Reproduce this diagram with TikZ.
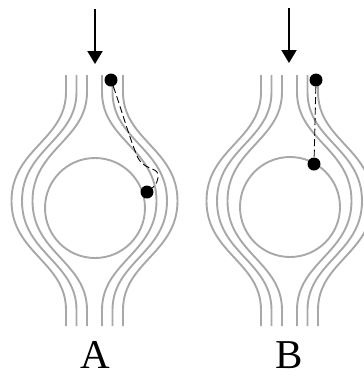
\documentclass[tikz,border=0pt]{standalone}
\usepackage{fontspec}
\setmainfont{Liberation Serif}
\usepackage{tikz}
\usetikzlibrary{arrows.meta,positioning}
\definecolor{flowgray}{RGB}{168,168,168}

\tikzset{
  streamline/.style={draw=flowgray, line width=1.9pt},
  particle/.style={circle, fill=black, inner sep=0pt, minimum size=13pt},
  pathline/.style={draw=black, line width=0.9pt, dash pattern=on 7pt off 3.5pt},
  inflow/.style={draw=black, line width=1.9pt, -{Triangle[length=13pt,width=15pt]}},
  panellabel/.style={anchor=base, font=\fontsize{41}{41}\selectfont, inner sep=0pt, text depth=0pt}
}

\begin{document}
\begin{tikzpicture}[x=1pt,y=-1pt]
\useasboundingbox (0,0) rectangle (364,376);
\clip (0,0) rectangle (364,376);

% streamlines round the obstacle, both panels
\foreach \cx in {94.5,289.5}{
  \foreach \d in {7.5,18,28.5}{
    \foreach \s in {-1,1}{
      \draw[streamline] ({\cx+(\s)*\d},75) -- ({\cx+(\s)*\d},92)
        .. controls ({\cx+(\s)*\d},140) and ({\cx+(\s)*(\d+54.5)},149) .. ({\cx+(\s)*(\d+54.5)},201)
        .. controls ({\cx+(\s)*(\d+54.5)},253) and ({\cx+(\s)*\d},262) .. ({\cx+(\s)*\d},310)
        -- ({\cx+(\s)*\d},326);
    }
  }
}

% obstacles
\draw[streamline] (95,208) circle[radius=50];
\draw[streamline] (290,207) circle[radius=50];

% incoming flow
\coordinate (inA) at (95,9);
\coordinate (tipA) at (95,64);
\coordinate (inB) at (289,8);
\coordinate (tipB) at (289,63);
\draw[inflow] (inA) -- (tipA);
\draw[inflow] (inB) -- (tipB);

% panel A: particle path
\node[particle] (startA) at (111,80) {};
\node[particle] (endA) at (147,192) {};
\draw[pathline] (startA) .. controls (120,105) and (130,140) .. (138,158)
  .. controls (146,172) and (160,166) .. (158,178)
  .. controls (157,185) and (152,188) .. (endA);

% panel B: particle path
\node[particle] (startB) at (316,80) {};
\node[particle] (endB) at (314,164) {};
\draw[pathline] (startB) -- (endB);

\node[panellabel] (labelA) at (95,368) {A};
\node[panellabel] (labelB) at (289,368) {B};
\end{tikzpicture}
\end{document}
